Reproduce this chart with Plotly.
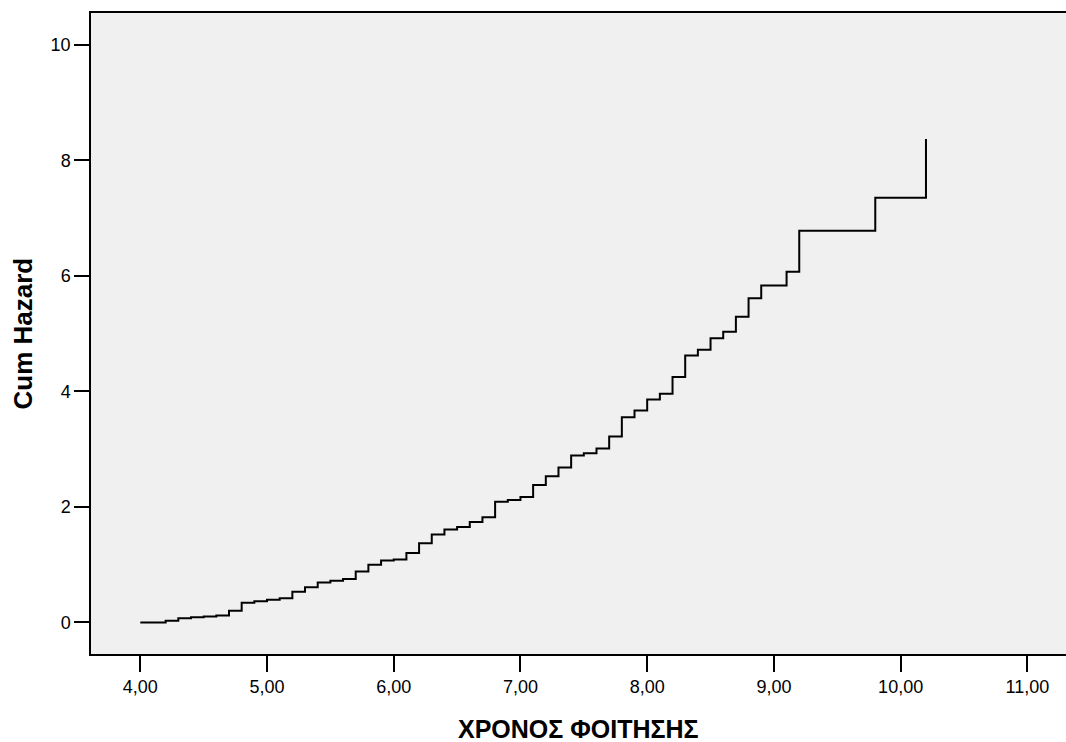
import plotly.graph_objects as go

# Event times (years) and cumulative hazard values
time = [4.0, 4.2, 4.3, 4.4, 4.5, 4.6, 4.7, 4.8, 4.9, 5.0, 5.1, 5.2, 5.3, 5.4, 5.5,
        5.6, 5.7, 5.8, 5.9, 6.0, 6.1, 6.2, 6.3, 6.4, 6.5, 6.6, 6.7, 6.8, 6.9, 7.0,
        7.1, 7.2, 7.3, 7.4, 7.5, 7.6, 7.7, 7.8, 7.9, 8.0, 8.1, 8.2, 8.3, 8.4, 8.5,
        8.6, 8.7, 8.8, 8.9, 9.1, 9.2, 9.8, 10.2]
cum_hazard = [0.0, 0.03, 0.07, 0.09, 0.10, 0.12, 0.20, 0.34, 0.365, 0.39, 0.42, 0.53, 0.61, 0.69, 0.72,
              0.75, 0.88, 1.00, 1.07, 1.09, 1.20, 1.37, 1.52, 1.61, 1.65, 1.74, 1.82, 2.09, 2.12, 2.17,
              2.38, 2.53, 2.68, 2.89, 2.93, 3.01, 3.22, 3.55, 3.67, 3.86, 3.96, 4.25, 4.62, 4.72, 4.92,
              5.03, 5.29, 5.61, 5.83, 6.07, 6.78, 7.35, 8.37]

x_tickvals = [4, 5, 6, 7, 8, 9, 10, 11]
x_ticktext = ["4,00", "5,00", "6,00", "7,00", "8,00", "9,00", "10,00", "11,00"]
y_tickvals = [0, 2, 4, 6, 8, 10]

x_title = "ΧΡΟΝΟΣ ΦΟΙΤΗΣΗΣ"
y_title = "Cum Hazard"

FONT = "Liberation Sans, Arial, sans-serif"

fig = go.Figure()
fig.add_trace(go.Scatter(
    x=time, y=cum_hazard, mode="lines", line_shape="hv",
    line=dict(color="black", width=2), showlegend=False, hoverinfo="skip",
))

fig.update_layout(
    width=1066, height=742,
    margin=dict(l=91, r=0, t=13, b=88),
    paper_bgcolor="white",
    plot_bgcolor="#F0F0F0",
    font=dict(family=FONT, color="black", size=18),
    xaxis=dict(
        range=[3.611, 11.305], tickvals=x_tickvals, ticktext=x_ticktext,
        showgrid=False, zeroline=False,
        showline=True, linecolor="black", linewidth=1.5, mirror=True,
        ticks="outside", ticklen=16, tickwidth=2, tickcolor="black",
        tickfont=dict(size=18, family=FONT),
    ),
    yaxis=dict(
        range=[-0.547, 10.549], tickvals=y_tickvals,
        showgrid=False, zeroline=False,
        showline=True, linecolor="black", linewidth=1.5, mirror=False,
        ticks="outside", ticklen=15, tickwidth=2, tickcolor="black",
        tickfont=dict(size=18, family=FONT),
    ),
    annotations=[
        dict(text=x_title, xref="paper", yref="paper", x=0.5, y=0,
             yshift=-75, xanchor="center", yanchor="middle", showarrow=False,
             font=dict(size=25, family=FONT, weight="bold")),
        dict(text=y_title, xref="paper", yref="paper", x=0, y=0.5,
             xshift=-69, xanchor="center", yanchor="middle", showarrow=False,
             textangle=-90, font=dict(size=26, family=FONT, weight="bold")),
    ],
)

fig.write_html("out.html")
